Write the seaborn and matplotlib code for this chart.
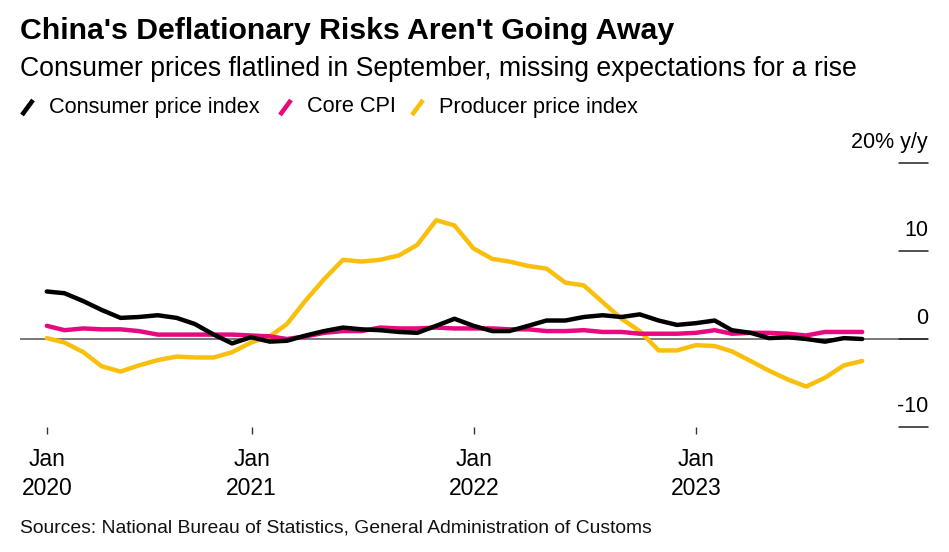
import numpy as np
import pandas as pd
import matplotlib
matplotlib.use("Agg")
import matplotlib.pyplot as plt
import matplotlib.transforms as mtransforms
from matplotlib.lines import Line2D
import seaborn as sns

# monthly y/y %, Jan 2020 - Sep 2023
months = pd.date_range("2020-01-31", periods=45, freq="ME")
cpi = [5.4, 5.2, 4.3, 3.3, 2.4, 2.5, 2.7, 2.4, 1.7, 0.5, -0.5, 0.2,
       -0.3, -0.2, 0.4, 0.9, 1.3, 1.1, 1.0, 0.8, 0.7, 1.5, 2.3, 1.5,
       0.9, 0.9, 1.5, 2.1, 2.1, 2.5, 2.7, 2.5, 2.8, 2.1, 1.6, 1.8,
       2.1, 1.0, 0.7, 0.1, 0.2, 0.0, -0.3, 0.1, 0.0]
core = [1.5, 1.0, 1.2, 1.1, 1.1, 0.9, 0.5, 0.5, 0.5, 0.5, 0.5, 0.4,
        0.3, 0.0, 0.3, 0.7, 0.9, 0.9, 1.3, 1.2, 1.2, 1.3, 1.2, 1.2,
        1.2, 1.1, 1.1, 0.9, 0.9, 1.0, 0.8, 0.8, 0.6, 0.6, 0.6, 0.7,
        1.0, 0.6, 0.7, 0.7, 0.6, 0.4, 0.8, 0.8, 0.8]
ppi = [0.1, -0.4, -1.5, -3.1, -3.7, -3.0, -2.4, -2.0, -2.1, -2.1, -1.5, -0.4,
       0.3, 1.7, 4.4, 6.8, 9.0, 8.8, 9.0, 9.5, 10.7, 13.5, 12.9, 10.3,
       9.1, 8.8, 8.3, 8.0, 6.4, 6.1, 4.2, 2.3, 0.9, -1.3, -1.3, -0.7,
       -0.8, -1.4, -2.5, -3.6, -4.6, -5.4, -4.4, -3.0, -2.5]

series_names = ["Consumer price index", "Core CPI", "Producer price index"]
colors = ["#000000", "#e8087f", "#f9bf0d"]
ytick_vals = [20, 10, 0, -10]
ytick_labels = ["20% y/y", "10", "0", "-10"]
xtick_dates = [months[0], pd.Timestamp("2021-01-01"), pd.Timestamp("2022-01-01"), pd.Timestamp("2023-01-01")]
xtick_labels = ["Jan\n2020", "Jan\n2021", "Jan\n2022", "Jan\n2023"]

df = pd.DataFrame({
    "date": np.tile(months, 3),
    "value": cpi + core + ppi,
    "series": np.repeat(series_names, len(months)),
})

sns.set_style("white")
plt.rcParams["font.family"] = ["Liberation Sans", "DejaVu Sans"]

W, H = 949, 552
fig = plt.figure(figsize=(W / 100, H / 100), dpi=100)
ax = fig.add_axes([20 / W, 1 - 427 / H, 908 / W, 264 / H])

# zero line first so the series sit on top
ax.axhline(0, color="#555555", lw=1.1, zorder=1)

sns.lineplot(data=df, x="date", y="value", hue="series", hue_order=series_names[::-1],
             palette=dict(zip(series_names, colors)), lw=3.2, legend=False, ax=ax, zorder=3)

ax.set_xlim(months[0] - pd.Timedelta(days=44), months[-1] + pd.Timedelta(days=108))
ax.set_ylim(-10, 20)
for s in ax.spines.values():
    s.set_visible(False)
ax.set_xlabel("")
ax.set_ylabel("")
ax.set_yticks([])
ax.set_xticks(xtick_dates)
ax.set_xticklabels(xtick_labels, fontsize=16.5, linespacing=1.35, color="#000000")
ax.tick_params(axis="x", bottom=True, direction="out", length=5, width=1, color="#333333", pad=10)

# right-hand value labels with short tick bars
trans = mtransforms.blended_transform_factory(ax.transAxes, ax.transData)
for v, lab in zip(ytick_vals, ytick_labels):
    ax.plot([0.968, 1.0], [v, v], color="#222222", lw=1.1, transform=trans, clip_on=False)
    ax.annotate(lab, xy=(1.0, v), xycoords=trans, xytext=(0, 7), textcoords="offset points",
                ha="right", va="bottom", fontsize=15.5, color="#000000")

# titles
fig.text(20 / W, 1 - 31 / H, "China's Deflationary Risks Aren't Going Away",
         fontsize=21.8, fontweight="bold", va="center", ha="left", color="#000000")
fig.text(20 / W, 1 - 69 / H, "Consumer prices flatlined in September, missing expectations for a rise",
         fontsize=19.2, va="center", ha="left", color="#000000")

# legend with slanted swatches
leg_x = [22, 280, 412]
for x0, name, c in zip(leg_x, series_names, colors):
    fig.add_artist(Line2D([x0 / W, (x0 + 11) / W], [1 - 115 / H, 1 - 100 / H],
                          color=c, lw=3.3, solid_capstyle="butt"))
    fig.text((x0 + 27) / W, 1 - 107 / H, name, fontsize=15.7, va="center", ha="left", color="#000000")

fig.text(20 / W, 1 - 528 / H, "Sources: National Bureau of Statistics, General Administration of Customs",
         fontsize=13.9, va="center", ha="left", color="#111111")

fig.savefig("out.png", dpi=100)
